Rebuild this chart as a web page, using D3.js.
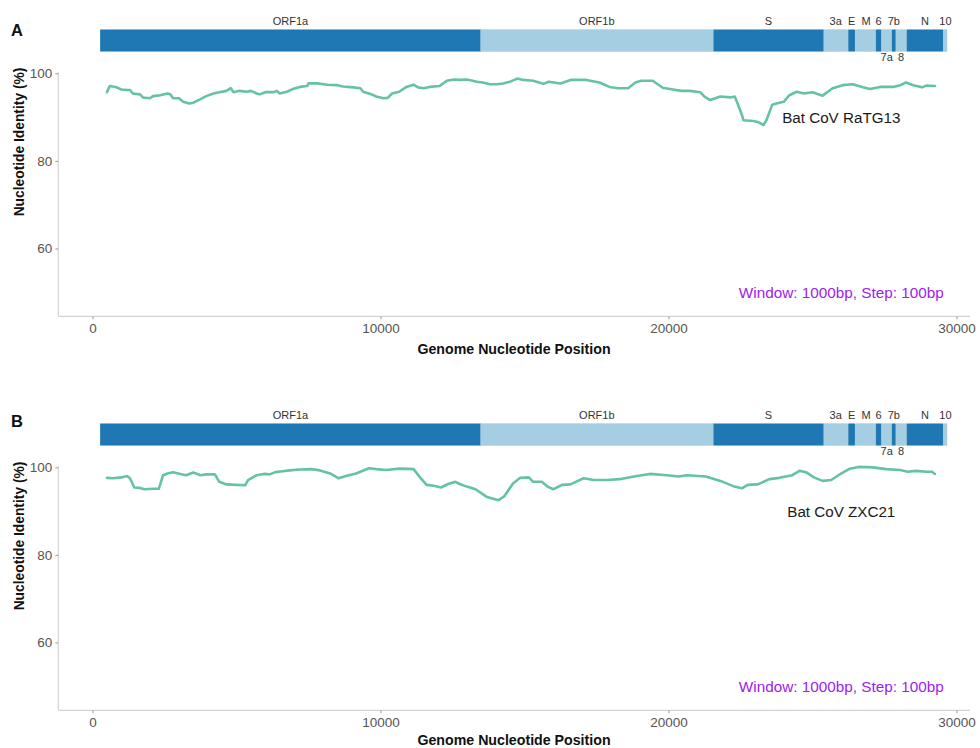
<!DOCTYPE html>
<html>
<head>
<meta charset="utf-8">
<script src="https://cdn.jsdelivr.net/npm/d3@7"></script>
<style>
  html, body { margin: 0; padding: 0; background: #fff; }
  svg { display: block; font-family: "Liberation Sans", Arial, Helvetica, sans-serif; }
</style>
</head>
<body>
<svg id="chart" width="980" height="748"></svg>
<script>
// ---------------- DATA ----------------
const genes      = ["ORF1a","ORF1b","S","3a","E","M","6","7a","7b","8","N","10"];
const geneStart  = [266,13468,21563,25393,26245,26523,27202,27394,27756,27894,28274,29558];
const geneEnd    = [13483,21555,25384,26220,26472,27191,27387,27759,27887,28259,29533,29674];
const geneBelow  = ["7a","8"];

const xTicks = [0, 10000, 20000, 30000];
const yTicks = [60, 80, 100];

const panelLabels  = ["A", "B"];
const strainLabels = ["Bat CoV RaTG13", "Bat CoV ZXC21"];
const noteText = "Window: 1000bp, Step: 100bp";

// Panel A: SARS-CoV-2 vs Bat CoV RaTG13
const posA = [500,600,800,1000,1200,1300,1400,1650,1750,2000,2100,2350,2600,2700,2800,3000,3150,3350,3500,3750,
  3950,4200,4400,4650,4800,4900,5100,5350,5500,5700,5800,6000,6300,6400,6500,6750,6950,7200,7450,7500,
  7800,8150,8500,8700,9050,9300,9400,9650,9850,10100,10250,10400,10650,10900,11150,11300,11500,11700,12050,12300,
  12550,12750,13000,13350,13550,13800,14050,14250,14500,14750,14950,15300,15650,15850,16250,16600,17150,17600,17950,18250,
  18600,18850,19050,19450,19800,20150,20450,20750,21100,21250,21450,21800,22150,22300,22400,22550,22600,22950,23100,23300,
  23400,23600,23750,24000,24200,24450,24700,25000,25350,25700,26050,26400,26750,27000,27350,27800,28050,28250,28500,28800,
  28950,29250];
const idA = [95.7,97.1,96.9,96.3,96.2,96.2,95.4,95.2,94.5,94.3,94.8,95.0,95.4,95.2,94.3,94.3,93.5,93.1,93.3,94.1,
  94.8,95.4,95.7,96.0,96.6,95.7,96.0,95.8,96.0,95.4,95.2,95.7,95.7,96.0,95.4,95.8,96.4,96.9,97.1,97.7,
  97.7,97.4,97.3,97.0,96.8,96.6,95.8,95.3,94.7,94.3,94.4,95.4,95.8,96.9,97.4,96.8,96.6,96.9,97.1,98.3,
  98.6,98.5,98.6,98.1,97.9,97.5,97.5,97.7,98.1,98.8,98.5,98.3,97.6,98.1,97.7,98.5,98.5,97.9,96.9,96.6,
  96.6,97.9,98.3,98.3,96.7,96.3,96.0,96.0,95.7,94.7,93.9,94.7,94.5,94.7,93.1,90.5,89.3,89.1,88.9,88.2,
  89.3,92.8,93.1,93.5,95.0,95.8,95.4,95.7,94.9,96.6,97.3,97.5,96.8,96.4,96.9,96.9,97.3,97.9,97.3,96.8,
  97.2,97.1];

// Panel B: SARS-CoV-2 vs Bat CoV ZXC21
const posB = [500,700,1000,1200,1300,1450,1650,1800,2100,2300,2450,2600,2800,3050,3250,3500,3750,3950,4250,4400,
  4650,5000,5300,5400,5700,5950,6150,6350,6600,6850,7200,7600,7900,8250,8550,8800,9150,9600,9850,10200,
  10650,11150,11350,11600,11850,12100,12350,12600,12750,13000,13300,13500,13700,14100,14300,14600,14850,15150,15300,15600,
  15800,16000,16300,16600,17050,17400,17850,18300,18800,19350,19950,20350,20650,21300,21800,22250,22550,22750,23100,23500,
  23850,24300,24550,24800,25050,25350,25650,25900,26300,26600,27100,27550,28050,28300,28600,28950,29150,29250];
const idB = [97.6,97.5,97.7,98.0,97.5,95.4,95.3,95.0,95.1,95.1,98.2,98.6,98.9,98.5,98.2,98.8,98.2,98.4,98.4,96.7,
  96.1,96.0,95.9,97.1,98.2,98.5,98.4,98.9,99.1,99.3,99.5,99.6,99.3,98.6,97.5,98.0,98.6,99.8,99.6,99.4,
  99.7,99.6,97.9,96.0,95.8,95.4,96.2,96.7,96.2,95.6,95.0,94.1,93.2,92.5,93.4,96.3,97.6,97.7,96.7,96.7,
  95.6,95.0,96.0,96.1,97.5,97.1,97.1,97.3,97.9,98.5,98.2,97.9,98.2,97.9,96.9,95.7,95.2,96.0,96.1,97.3,
  97.6,98.2,99.2,98.8,97.7,96.9,97.1,98.2,99.7,100.1,100.0,99.6,99.4,99.0,99.2,99.0,99.0,98.5];

// ---------------- DRAW ----------------
const svg = d3.select("#chart");
const darkBlue = "#1f78b4", lightBlue = "#a6cee3", lineCol = "#66c2a5";
const axisCol = "#d4d4d4", tickTextCol = "#555555";

const x = d3.scaleLinear().domain([-1188, 30469]).range([58.3, 970]);

function drawPanel(offsetY, letterBaseline, titleBaseline, letter, pos, ident, strain) {
  const y = d3.scaleLinear().domain([44.5, 116]).range([316.3 + offsetY, 316.3 + offsetY - 71.5 * 4.3776]);
  const g = svg.append("g");

  // panel letter
  g.append("text").attr("x", 11).attr("y", letterBaseline)
    .attr("font-size", 16.5).attr("font-weight", "bold").attr("fill", "#111").text(letter);

  // gene bar background (continuous)
  g.append("rect")
    .attr("x", x(d3.min(geneStart))).attr("width", x(d3.max(geneEnd)) - x(d3.min(geneStart)))
    .attr("y", y(110)).attr("height", y(105) - y(110)).attr("fill", lightBlue);
  genes.forEach((name, i) => {
    g.append("rect")
      .attr("x", x(geneStart[i])).attr("width", x(geneEnd[i]) - x(geneStart[i]))
      .attr("y", y(110)).attr("height", y(105) - y(110))
      .attr("fill", i % 2 === 0 ? darkBlue : lightBlue);
  });
  genes.forEach((name, i) => {
    const below = geneBelow.includes(name);
    g.append("text")
      .attr("x", x((geneStart[i] + geneEnd[i]) / 2))
      .attr("y", y(below ? 103.8 : 111.9))
      .attr("text-anchor", "middle").attr("dominant-baseline", "central")
      .attr("font-size", 11).attr("fill", "#333").text(name);
  });

  // axes
  g.append("line").attr("x1", x.range()[0]).attr("x2", x.range()[1])
    .attr("y1", y(44.5)).attr("y2", y(44.5)).attr("stroke", axisCol).attr("stroke-width", 1.2);
  g.append("line").attr("x1", x.range()[0]).attr("x2", x.range()[0])
    .attr("y1", y(100) - 1).attr("y2", y(44.5)).attr("stroke", axisCol).attr("stroke-width", 1.2);

  const xa = g.append("g").attr("transform", `translate(0,${y(44.5)})`)
    .call(d3.axisBottom(x).tickValues(xTicks).tickSize(3).tickPadding(4).tickFormat(d3.format("d")));
  xa.select(".domain").remove();
  xa.selectAll("line").attr("stroke", "#9a9a9a");
  xa.selectAll("text").attr("font-size", 13.5).attr("fill", tickTextCol)
    .attr("font-family", "'Liberation Sans', Arial, sans-serif");

  const ya = g.append("g").attr("transform", `translate(${x.range()[0]},0)`)
    .call(d3.axisLeft(y).tickValues(yTicks).tickSize(3).tickPadding(3));
  ya.select(".domain").remove();
  ya.selectAll("line").attr("stroke", "#9a9a9a");
  ya.selectAll("text").attr("font-size", 13.5).attr("fill", tickTextCol)
    .attr("font-family", "'Liberation Sans', Arial, sans-serif");

  // axis titles
  g.append("text").attr("transform", `translate(24,${142 + offsetY}) rotate(-90)`)
    .attr("text-anchor", "middle").attr("font-size", 13.8).attr("font-weight", "bold")
    .attr("fill", "#111").text("Nucleotide Identity (%)");
  g.append("text").attr("x", 514).attr("y", titleBaseline)
    .attr("text-anchor", "middle").attr("font-size", 14.2).attr("font-weight", "bold")
    .attr("fill", "#111").text("Genome Nucleotide Position");

  // identity line
  const line = d3.line().x((d, i) => x(pos[i])).y((d, i) => y(ident[i]));
  g.append("path").datum(ident).attr("d", line)
    .attr("fill", "none").attr("stroke", lineCol).attr("stroke-width", 2.6)
    .attr("stroke-linejoin", "round").attr("stroke-linecap", "round");

  // labels
  g.append("text").attr("x", x(26000)).attr("y", y(90))
    .attr("text-anchor", "middle").attr("dominant-baseline", "central")
    .attr("font-size", 15.2).attr("fill", "#1a1a1a").text(strain);
  g.append("text").attr("x", x(26000)).attr("y", y(50))
    .attr("text-anchor", "middle").attr("dominant-baseline", "central")
    .attr("font-size", 15.3).attr("fill", "#a020f0").text(noteText);
}

drawPanel(0, 35.5, 354, panelLabels[0], posA, idA, strainLabels[0]);
drawPanel(394, 427, 744.5, panelLabels[1], posB, idB, strainLabels[1]);
</script>
</body>
</html>
